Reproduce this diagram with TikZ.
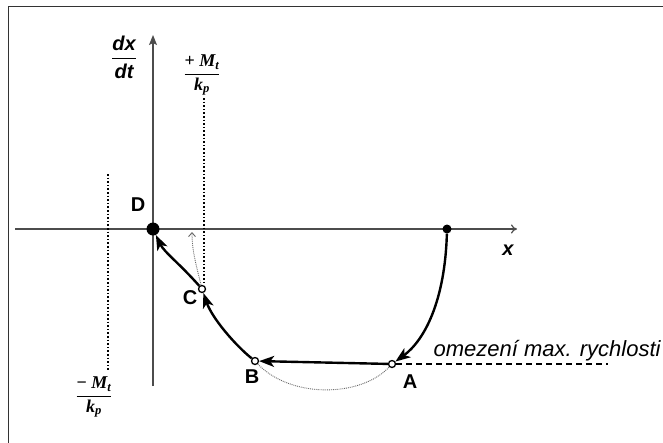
\documentclass[tikz,border=0pt]{standalone}
\usepackage{amsmath}
\usepackage{fontspec}
\setmainfont{Liberation Serif}
\setsansfont{Liberation Sans}
\usetikzlibrary{arrows.meta}

\begin{document}
\begin{tikzpicture}[x=1pt,y=-1pt,>=Stealth,
  axis/.style={line width=1.2,draw=black!70},
  traj/.style={line width=2.4,-{Stealth[length=15,width=11,inset=4]}},
  guide/.style={line width=1.6,dotted},
  free/.style={line width=0.9,densely dotted,draw=black!60},
  lbl/.style={font=\sffamily\bfseries\fontsize{20}{21}\selectfont},
  bnd/.style={font=\rmfamily\bfseries\fontsize{18}{19}\selectfont},
  hole/.style={circle,draw,fill=white,line width=1.3,inner sep=0,minimum size=7},
  dot/.style={circle,fill,inner sep=0}]
  \useasboundingbox (0,0) rectangle (663,442);
  \clip (0,0) rectangle (663,442);
  \draw[line width=1,black!80] (8,450) |- (670,6);
  % axes
  \coordinate (xl) at (15,229);
  \coordinate (xr) at (517,229);
  \coordinate (yb) at (153,386);
  \coordinate (yt) at (153,35);
  \draw[axis,-{To[length=6,width=9]}] (xl) -- (xr);
  \draw[axis,-{Stealth[length=10,width=8,inset=2]}] (yb) -- (yt);
  \node[font=\sffamily\bfseries\itshape\fontsize{20}{21}\selectfont] (xlab) at (508,250) {x};
  \node[font=\sffamily\bfseries\itshape\fontsize{20}{21}\selectfont] (ylab) at (124,57) {$\dfrac{\text{dx}}{\text{dt}}$};
  % states
  \node[dot,minimum size=13] (D) at (153,229) {};
  \node[dot,minimum size=9] (S) at (447,229) {};
  \node[hole] (A) at (392,364) {};
  \node[hole] (B) at (255,361) {};
  \node[hole] (C) at (202,289) {};
  \node[lbl] (lD) at (138,205) {D};
  \node[lbl] (lA) at (410,382) {A};
  \node[lbl] (lB) at (252,377) {B};
  \node[lbl] (lC) at (190,298) {C};
  % bounds
  \coordinate (pt) at (204,98);
  \coordinate (nt) at (108,174);
  \coordinate (nb) at (108,370);
  \draw[guide] (pt) -- (pt |- C.north);
  \draw[guide] (nt) -- (nb);
  \node[bnd] (lp) at (202,75) {$\dfrac{\text{+ \itshape M\textsubscript{t}}}{\text{\itshape k\textsubscript{p}}}$};
  \node[bnd] (ln) at (94,397) {$\dfrac{\text{− \itshape M\textsubscript{t}}}{\text{\itshape k\textsubscript{p}}}$};
  % speed limit
  \coordinate (lim) at (608,364);
  \draw[line width=1.2,dash pattern=on 6 off 4] (A) -- (lim);
  \node[anchor=base west,font=\sffamily\itshape\fontsize{22}{24}\selectfont] (limt) at (430,356) {omezení max. rychlosti};
  % trajectory
  \draw[free] (B) .. controls (290,398) and (360,398) .. (A);
  \coordinate (ct) at (192,232);
  \draw[free,-{Straight Barb[length=4,width=7]}] (C) .. controls (197,268) and (192,252) .. (ct);
  \draw[traj] (S) .. controls (445,300) and (425,340) .. (A);
  \draw[traj] (A) -- (B);
  \draw[traj] (B) .. controls (235,345) and (212,318) .. (C);
  \draw[traj] (C) .. controls (180,264) and (164,252) .. (D);
\end{tikzpicture}
\end{document}
